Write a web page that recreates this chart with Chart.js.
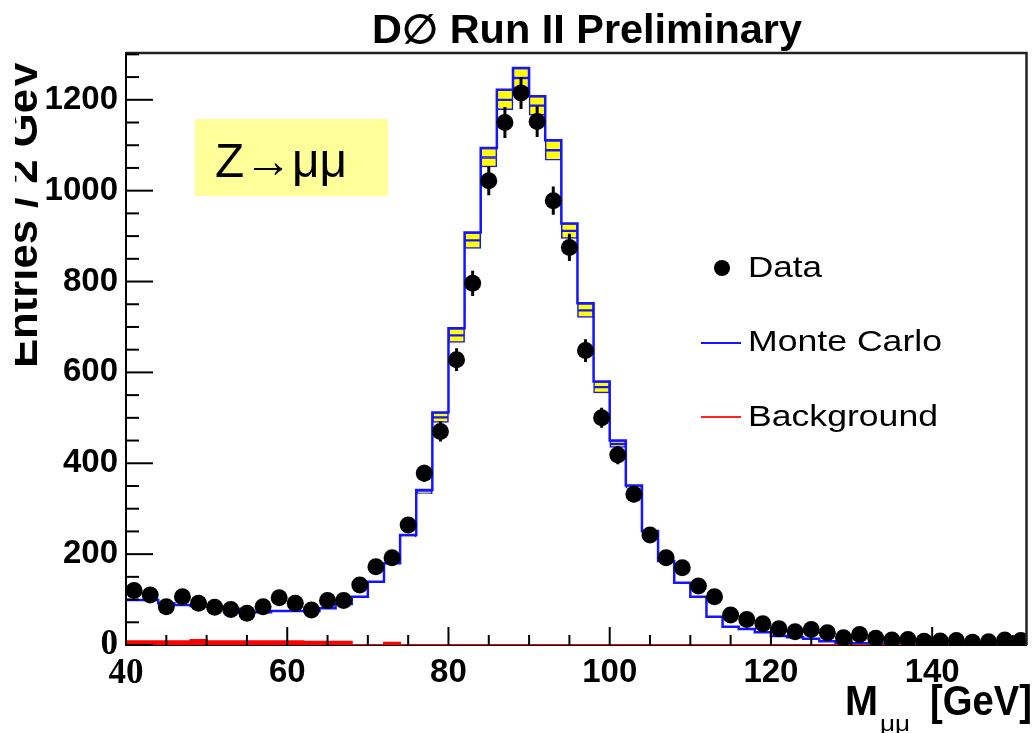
<!DOCTYPE html>
<html>
<head>
<meta charset="utf-8">
<script src="https://cdn.jsdelivr.net/npm/chart.js"></script>
<style>
  html, body { margin: 0; padding: 0; background: #fff; }
</style>
</head>
<body>
<canvas id="canvas" width="1035" height="733"></canvas>
<script>
// bin centres, 2 GeV bins from 40 to 152
const binCenters = [41, 43, 45, 47, 49, 51, 53, 55, 57, 59,
  61, 63, 65, 67, 69, 71, 73, 75, 77, 79,
  81, 83, 85, 87, 89, 91, 93, 95, 97, 99,
  101, 103, 105, 107, 109, 111, 113, 115, 117, 119,
  121, 123, 125, 127, 129, 131, 133, 135, 137, 139,
  141, 143, 145, 147, 149, 151];

const dataCounts = [120, 110, 84, 106, 92, 83, 78, 70, 84, 104,
  92, 77, 98, 98, 132, 172, 192, 264, 378, 470,
  628, 796, 1022, 1150, 1215, 1152, 978, 875, 648, 500,
  418, 332, 242, 192, 170, 130, 106, 66, 56, 47,
  36, 29, 34, 27, 16, 23, 15, 11, 12, 8,
  9, 10, 6, 7, 11, 10];

const dataErr = [11, 10, 9, 10, 10, 9, 9, 8, 9, 10,
  10, 9, 10, 10, 11, 13, 14, 16, 19, 22,
  25, 28, 32, 34, 35, 34, 31, 30, 25, 22,
  20, 18, 16, 14, 13, 11, 10, 8, 7, 7,
  6, 5, 6, 5, 4, 5, 4, 3, 3, 3,
  3, 3, 2, 3, 3, 3];

const mcCounts = [99, 99, 92, 88, 86, 84, 80, 72, 72, 75,
  75, 75, 81, 90, 106, 139, 180, 242, 341, 512,
  697, 908, 1094, 1222, 1270, 1208, 1111, 928, 752, 580,
  450, 351, 251, 185, 137, 106, 62, 40, 35, 28,
  20, 17, 14, 8, 5, 4, 3, 3, 2, 2,
  2, 1, 1, 1, 1, 1];

// height of the yellow systematic boxes
const mcErr = [0, 0, 0, 0, 0, 0, 0, 0, 0, 0,
  0, 0, 0, 0, 0, 0, 0, 4, 8, 22,
  31, 35, 42, 44, 44, 42, 44, 33, 31, 25,
  15, 6, 3, 0, 0, 0, 0, 0, 0, 0,
  0, 0, 0, 0, 0, 0, 0, 0, 0, 0,
  0, 0, 0, 0, 0, 0];

const bgCounts = [8, 8, 8, 8, 11, 8, 8, 8, 8, 8,
  8, 7, 7, 7, 0, 0, 5, 0, 0, 0,
  0, 0, 0, 0, 0, 0, 0, 0, 0, 0,
  0, 0, 0, 0, 0, 0, 0, 0, 0, 0,
  0, 0, 0, 0, 0, 0, 0, 0, 0, 0,
  0, 0, 0, 0, 0, 0];

const xTicks = [40, 60, 80, 100, 120, 140];
const yTicks = [0, 200, 400, 600, 800, 1000, 1200];

const half = 1; // half bin width in GeV
const BLUE = '#1414ff';
const SANS = '"Liberation Sans", Arial, Helvetica, sans-serif';

// step histograms: value held from left edge to next edge
function stepData(vals) {
  const pts = binCenters.map((c, i) => ({ x: c - half, y: vals[i] }));
  pts.push({ x: binCenters[binCenters.length - 1] + half, y: vals[vals.length - 1] });
  return pts;
}

const boxLow = [], boxHigh = [];
binCenters.forEach((c, i) => {
  if (mcErr[i] > 0) {
    const top = mcCounts[i], e = mcErr[i];
    boxLow.push({ x: c, y: [top - e, top - e / 2] });
    boxHigh.push({ x: c, y: [top - e / 2, top] });
  }
});

function fitText(ctx, text, x, y, w) {
  const m = ctx.measureText(text).width;
  ctx.save();
  ctx.translate(x, y);
  ctx.scale(w / m, 1);
  ctx.textAlign = 'left';
  ctx.fillText(text, 0, 0);
  ctx.restore();
}

const errorBars = {
  id: 'errorBars',
  afterDatasetsDraw(chart) {
    const { ctx, chartArea: a, scales: { x, y } } = chart;
    ctx.save();
    ctx.beginPath();
    ctx.rect(a.left, a.top, a.width, a.height);
    ctx.clip();
    ctx.strokeStyle = '#000';
    ctx.lineWidth = 3;
    binCenters.forEach((c, i) => {
      const px = x.getPixelForValue(c);
      ctx.beginPath();
      ctx.moveTo(px, y.getPixelForValue(dataCounts[i] - dataErr[i]));
      ctx.lineTo(px, y.getPixelForValue(dataCounts[i] + dataErr[i]));
      ctx.stroke();
    });
    ctx.restore();
  }
};

const decorations = {
  id: 'decorations',
  afterDraw(chart) {
    const { ctx, chartArea: a, scales: { x, y } } = chart;
    ctx.save();

    // frame top + right
    ctx.strokeStyle = '#222';
    ctx.lineWidth = 2.5;
    ctx.beginPath();
    ctx.moveTo(a.left, a.top);
    ctx.lineTo(a.right, a.top);
    ctx.lineTo(a.right, a.bottom);
    ctx.stroke();

    // inward ticks, major + minor
    ctx.strokeStyle = '#000';
    ctx.lineWidth = 2;
    for (let v = 0; v <= y.max; v += 50) {
      const py = y.getPixelForValue(v);
      const len = v % 200 === 0 ? 27 : 13;
      ctx.beginPath();
      ctx.moveTo(a.left, py);
      ctx.lineTo(a.left + len, py);
      ctx.stroke();
    }
    for (let v = 40; v <= x.max; v += 5) {
      const px = x.getPixelForValue(v);
      const len = v % 20 === 0 ? 18 : 10;
      ctx.beginPath();
      ctx.moveTo(px, a.bottom);
      ctx.lineTo(px, a.bottom - len);
      ctx.stroke();
    }

    ctx.fillStyle = '#000';
    ctx.textBaseline = 'alphabetic';

    // title
    ctx.font = 'bold 40px ' + SANS;
    fitText(ctx, 'D\u2205 Run II Preliminary', 372, 43, 430);

    // y axis title, clipped on the left like the original
    ctx.save();
    ctx.beginPath();
    ctx.rect(15, 0, 100, 733);
    ctx.clip();
    ctx.translate(37, 368);
    ctx.rotate(-Math.PI / 2);
    ctx.font = 'bold 42px ' + SANS;
    fitText(ctx, 'Entries / 2 GeV', 0, 0, 308);
    ctx.restore();

    // x axis title
    ctx.font = 'bold 42px ' + SANS;
    fitText(ctx, 'M', 845, 715, 33);
    fitText(ctx, '[GeV]', 930, 715, 102);
    ctx.font = '22px ' + SANS;
    fitText(ctx, '\u03bc\u03bc', 880, 731, 30);

    // Z -> mu mu label
    ctx.fillStyle = '#ffff99';
    ctx.fillRect(195, 119, 193, 77);
    ctx.fillStyle = '#000';
    ctx.font = '48px ' + SANS;
    fitText(ctx, 'Z\u2192\u03bc\u03bc', 215, 177, 132);

    // legend
    ctx.font = '29px ' + SANS;
    ctx.beginPath();
    ctx.arc(722, 268, 8, 0, Math.PI * 2);
    ctx.fill();
    fitText(ctx, 'Data', 748, 277, 74);
    ctx.lineWidth = 2;
    ctx.strokeStyle = BLUE;
    ctx.beginPath();
    ctx.moveTo(701, 343);
    ctx.lineTo(741, 343);
    ctx.stroke();
    fitText(ctx, 'Monte Carlo', 748, 351, 194);
    ctx.strokeStyle = '#ff2020';
    ctx.beginPath();
    ctx.moveTo(701, 417);
    ctx.lineTo(741, 417);
    ctx.stroke();
    fitText(ctx, 'Background', 748, 426, 190);

    ctx.restore();
  }
};

const tickFont = (c) => {
  const v = c.tick ? c.tick.value : null;
  if (v === 0 || v === 40) {
    return { family: '"Liberation Serif", "Times New Roman", serif', size: 35, weight: 'bold' };
  }
  return { family: SANS, size: 33, weight: 'bold' };
};

const ctx = document.getElementById('canvas').getContext('2d');
new Chart(ctx, {
  type: 'line',
  data: {
    datasets: [
      {
        type: 'scatter',
        label: 'Data',
        data: binCenters.map((c, i) => ({ x: c, y: dataCounts[i] })),
        pointRadius: 8.5,
        pointHoverRadius: 8.5,
        pointBackgroundColor: '#000',
        pointBorderWidth: 0,
        order: 0
      },
      {
        label: 'Background',
        data: stepData(bgCounts),
        stepped: 'before',
        borderColor: '#ff0000',
        backgroundColor: '#ff0000',
        borderWidth: 2,
        fill: 'origin',
        pointRadius: 0,
        order: 1
      },
      {
        label: 'Monte Carlo',
        data: stepData(mcCounts),
        stepped: 'before',
        borderColor: BLUE,
        borderWidth: 2.5,
        fill: false,
        pointRadius: 0,
        order: 2
      },
      {
        type: 'bar',
        label: 'MC syst high',
        data: boxHigh,
        backgroundColor: '#ffff00',
        borderColor: BLUE,
        borderWidth: 1.5,
        borderSkipped: false,
        grouped: false,
        barPercentage: 1,
        categoryPercentage: 1,
        order: 3
      },
      {
        type: 'bar',
        label: 'MC syst low',
        data: boxLow,
        backgroundColor: '#ffff00',
        borderColor: BLUE,
        borderWidth: 1.5,
        borderSkipped: false,
        grouped: false,
        barPercentage: 1,
        categoryPercentage: 1,
        order: 3
      }
    ]
  },
  options: {
    responsive: false,
    animation: false,
    layout: { padding: { top: 53, right: 1, left: 0, bottom: 0 } },
    plugins: {
      legend: { display: false },
      tooltip: { enabled: false },
      title: { display: false }
    },
    scales: {
      x: {
        type: 'linear',
        min: 40,
        max: 151.7,
        offset: false,
        grid: { display: false, drawTicks: false, offset: false },
        border: { display: true, color: '#000', width: 2 },
        afterBuildTicks: (s) => { s.ticks = xTicks.map(v => ({ value: v })); },
        afterFit: (s) => { s.height = 88; },
        ticks: {
          color: '#000',
          padding: 8,
          maxRotation: 0,
          autoSkip: false,
          includeBounds: false,
          callback: (v) => String(v),
          font: tickFont
        }
      },
      y: {
        min: 0,
        max: 1303,
        grid: { display: false, drawTicks: false },
        border: { display: true, color: '#000', width: 2 },
        afterBuildTicks: (s) => { s.ticks = yTicks.map(v => ({ value: v })); },
        afterFit: (s) => { s.width = 126; },
        ticks: {
          color: '#000',
          padding: 8,
          autoSkip: false,
          includeBounds: false,
          callback: (v) => String(v),
          font: tickFont
        }
      }
    }
  },
  plugins: [errorBars, decorations]
});
</script>
</body>
</html>
